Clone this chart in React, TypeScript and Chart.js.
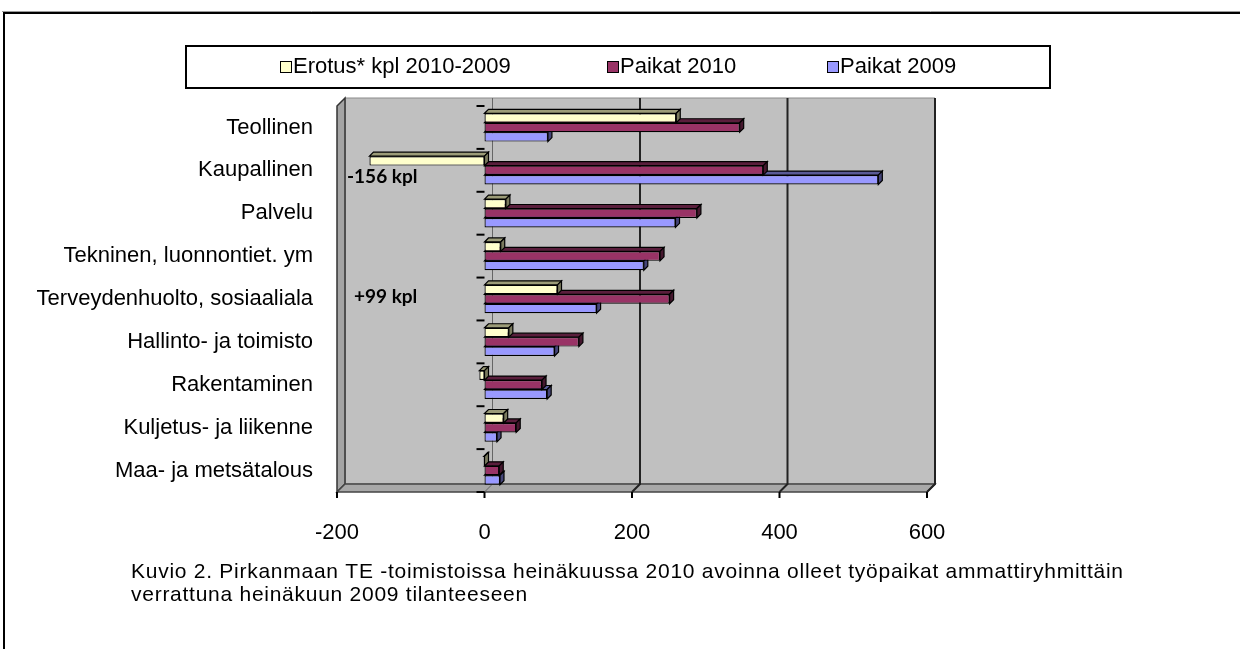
import React, { useEffect, useRef } from "react";
import { Chart, registerables } from "chart.js";
Chart.register(...registerables);

const categories = [
  "Teollinen",
  "Kaupallinen",
  "Palvelu",
  "Tekninen, luonnontiet. ym",
  "Terveydenhuolto, sosiaaliala",
  "Hallinto- ja toimisto",
  "Rakentaminen",
  "Kuljetus- ja liikenne",
  "Maa- ja metsätalous",
];
const erotus = [260, -156, 29, 22, 99, 33, -7, 26, -1];
const paikat2010 = [346, 378, 288, 238, 251, 128, 78, 43, 20];
const paikat2009 = [86, 534, 259, 216, 152, 95, 85, 17, 21];
const xTicks = [-200, 0, 200, 400, 600];
const seriesLabels = ["Erotus* kpl 2010-2009", "Paikat 2010", "Paikat 2009"];
const annotationCategories = ["Kaupallinen", "Terveydenhuolto, sosiaaliala"];
const annotationTexts = ["-156 kpl", "+99 kpl"];
const captionLines = [
  "Kuvio 2. Pirkanmaan TE -toimistoissa heinäkuussa 2010 avoinna olleet työpaikat ammattiryhmittäin",
  "verrattuna heinäkuun 2009 tilanteeseen",
];

const FRONT = ["#FFFFCC", "#993366", "#9999FF"];
const TOP = ["#9C9C78", "#5A1E3C", "#5A5A96"];
const SIDE = ["#7A7A5E", "#45172E", "#454578"];
const FONT = '"Liberation Sans", Arial, sans-serif';
const D = 8; // wall depth
const d = 4; // bar depth

function poly(ctx: CanvasRenderingContext2D, pts: number[][], fill: string, stroke?: string, lw = 1) {
  ctx.beginPath();
  ctx.moveTo(pts[0][0], pts[0][1]);
  for (let i = 1; i < pts.length; i++) ctx.lineTo(pts[i][0], pts[i][1]);
  ctx.closePath();
  ctx.fillStyle = fill;
  ctx.fill();
  if (stroke) {
    ctx.strokeStyle = stroke;
    ctx.lineWidth = lw;
    ctx.stroke();
  }
}

const wallsPlugin = {
  id: "walls",
  beforeDatasetsDraw(chart: any) {
    const { ctx, chartArea: a, scales } = chart;
    const x = scales.x;
    ctx.save();
    // back wall
    poly(ctx, [[a.left + D, a.top - D], [a.right + D, a.top - D], [a.right + D, a.bottom - D], [a.left + D, a.bottom - D]], "#C0C0C0", "#8A8A8A", 1);
    // side wall
    poly(ctx, [[a.left, a.top], [a.left + D, a.top - D], [a.left + D, a.bottom - D], [a.left, a.bottom]], "#A4A4A4", "#333", 1.5);
    // floor
    poly(ctx, [[a.left, a.bottom], [a.left + D, a.bottom - D], [a.right + D, a.bottom - D], [a.right, a.bottom]], "#A8A8A8", "#444", 1.5);
    // grid lines
    xTicks.forEach((v) => {
      const px = x.getPixelForValue(v);
      if (v > xTicks[0]) {
        ctx.beginPath();
        ctx.moveTo(px + D, a.top - D);
        ctx.lineTo(px + D, a.bottom - D);
        ctx.lineTo(px, a.bottom);
        ctx.strokeStyle = v === 0 ? "#666" : "#222";
        ctx.lineWidth = v === 0 ? 1 : 2;
        ctx.stroke();
      }
      ctx.beginPath();
      ctx.moveTo(px, a.bottom);
      ctx.lineTo(px, a.bottom + 6);
      ctx.strokeStyle = "#000";
      ctx.lineWidth = 2;
      ctx.stroke();
    });
    // category tick marks at the zero axis
    const x0 = x.getPixelForValue(0);
    const n = categories.length;
    for (let i = 0; i <= n; i++) {
      const yy = a.top + (i * (a.bottom - a.top)) / n;
      ctx.beginPath();
      ctx.moveTo(x0 - 8, yy);
      ctx.lineTo(x0, yy);
      ctx.strokeStyle = "#000";
      ctx.lineWidth = 2;
      ctx.stroke();
    }
    ctx.restore();
  },
  beforeDatasetDraw(chart: any, args: any) {
    const { ctx } = chart;
    const i = args.index;
    ctx.save();
    args.meta.data.forEach((bar: any) => {
      const p = bar.getProps(["x", "y", "base", "height"], true);
      const l = Math.min(p.x, p.base);
      const r = Math.max(p.x, p.base);
      const t = p.y - p.height / 2;
      const b = p.y + p.height / 2;
      poly(ctx, [[l, t], [l + d, t - d], [r + d, t - d], [r, t]], TOP[i], "#000", 1.2);
      poly(ctx, [[r, t], [r + d, t - d], [r + d, b - d], [r, b]], SIDE[i], "#000", 1.2);
    });
    ctx.restore();
  },
};

const overlayPlugin = {
  id: "overlay",
  afterDraw(chart: any) {
    const { ctx, scales } = chart;
    const x = scales.x;
    const y = scales.y;
    ctx.save();
    // outer frame
    ctx.strokeStyle = "#9A9A9A";
    ctx.lineWidth = 1;
    ctx.beginPath();
    ctx.moveTo(2, 11.5);
    ctx.lineTo(1240, 11.5);
    ctx.stroke();
    ctx.strokeStyle = "#000";
    ctx.lineWidth = 2;
    ctx.beginPath();
    ctx.moveTo(4, 649);
    ctx.lineTo(4, 13);
    ctx.lineTo(1240, 13);
    ctx.stroke();

    // legend
    ctx.lineWidth = 2;
    ctx.strokeStyle = "#000";
    ctx.strokeRect(186, 46, 864, 42);
    const legX = [280, 607, 827];
    ctx.font = `22px ${FONT}`;
    ctx.textBaseline = "middle";
    ctx.textAlign = "left";
    chart.data.datasets.forEach((ds: any, i: number) => {
      ctx.fillStyle = ds.backgroundColor;
      ctx.fillRect(legX[i], 61, 11, 11);
      ctx.lineWidth = 1;
      ctx.strokeStyle = "#000";
      ctx.strokeRect(legX[i] + 0.5, 61.5, 11, 11);
      ctx.fillStyle = "#000";
      ctx.fillText(ds.label, legX[i] + 13, 67);
    });

    // annotations
    ctx.font = `bold 19px Lato, "Open Sans", sans-serif`;
    ctx.fillStyle = "#000";
    const ax = [10, 17];
    annotationTexts.forEach((t, i) => {
      const idx = categories.indexOf(annotationCategories[i]);
      const cy = y.getPixelForValue(idx);
      ctx.fillText(t, x.getPixelForValue(xTicks[0]) + ax[i], cy + (i === 0 ? 7 : -2));
    });

    // caption
    ctx.font = `21px ${FONT}`;
    ctx.fillStyle = "#000";
    (ctx as any).letterSpacing = "0px";
    const w0 = ctx.measureText(captionLines[0]).width;
    const ls = (992 - w0) / (captionLines[0].length - 1);
    (ctx as any).letterSpacing = ls + "px";
    ctx.fillText(captionLines[0], 131, 572);
    ctx.fillText(captionLines[1], 131, 595);
    (ctx as any).letterSpacing = "0px";
    ctx.restore();
  },
};

export default function App() {
  const ref = useRef<HTMLCanvasElement>(null);
  useEffect(() => {
    if (!ref.current) return;
    const series = [erotus, paikat2010, paikat2009];
    const chart = new Chart(ref.current, {
      type: "bar",
      data: {
        labels: categories,
        datasets: series.map((data, i) => ({
          label: seriesLabels[i],
          data,
          backgroundColor: FRONT[i],
          borderColor: "#000",
          borderWidth: 1.2,
          borderSkipped: false,
        })),
      },
      options: {
        indexAxis: "y",
        animation: false,
        responsive: false,
        maintainAspectRatio: false,
        layout: { padding: { left: 0, top: 106, right: 313, bottom: 0 } },
        datasets: { bar: { categoryPercentage: 0.66, barPercentage: 1 } },
        plugins: { legend: { display: false }, tooltip: { enabled: false }, title: { display: false } },
        scales: {
          x: {
            type: "linear",
            min: -200,
            max: 600,
            afterBuildTicks: (s: any) => {
              s.ticks = xTicks.map((v) => ({ value: v }));
            },
            grid: { display: false, drawTicks: false },
            border: { display: false },
            ticks: { font: { family: FONT, size: 22 }, color: "#000", padding: 28, maxRotation: 0 },
            afterFit: (s: any) => {
              s.height = 157;
            },
          },
          y: {
            grid: { display: false, drawTicks: false },
            border: { display: false },
            ticks: { font: { family: FONT, size: 22 }, color: "#000", padding: 24, autoSkip: false },
            afterFit: (s: any) => {
              s.width = 337;
            },
          },
        },
      } as any,
      plugins: [wallsPlugin, overlayPlugin],
    });
    return () => chart.destroy();
  }, []);
  return (
    <div style={{ position: "fixed", left: 0, top: 0, width: 1240, height: 649, background: "#fff" }}>
      <canvas ref={ref} width={1240} height={649} style={{ display: "block" }} />
    </div>
  );
}
